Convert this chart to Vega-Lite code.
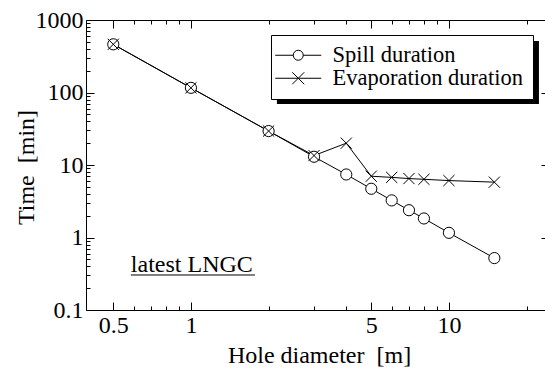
{
  "$schema": "https://vega.github.io/schema/vega-lite/v6.json",
  "width": 459,
  "height": 290,
  "autosize": {"type": "none"},
  "padding": {"left": 86, "top": 20, "right": 0, "bottom": 60},
  "background": "white",
  "config": {
    "view": {"stroke": null},
    "font": "Liberation Serif",
    "axis": {
      "grid": false,
      "domainColor": "black",
      "domainWidth": 1,
      "tickColor": "black",
      "tickWidth": 1,
      "labelColor": "black",
      "labelFont": "Liberation Serif",
      "labelFontSize": 24,
      "titleFont": "Liberation Serif",
      "titleFontSize": 24,
      "titleFontWeight": "normal",
      "titleColor": "black",
      "labelFlush": false,
      "labelOverlap": false
    }
  },
  "data": {
    "values": [
      {"d": 0.5, "t": 462, "series": "Spill duration"},
      {"d": 1, "t": 116, "series": "Spill duration"},
      {"d": 2, "t": 29.4, "series": "Spill duration"},
      {"d": 3, "t": 13.0, "series": "Spill duration"},
      {"d": 4, "t": 7.4, "series": "Spill duration"},
      {"d": 5, "t": 4.7, "series": "Spill duration"},
      {"d": 6, "t": 3.25, "series": "Spill duration"},
      {"d": 7, "t": 2.38, "series": "Spill duration"},
      {"d": 8, "t": 1.83, "series": "Spill duration"},
      {"d": 10, "t": 1.16, "series": "Spill duration"},
      {"d": 15, "t": 0.52, "series": "Spill duration"},
      {"d": 0.5, "t": 462, "series": "Evaporation duration"},
      {"d": 1, "t": 116, "series": "Evaporation duration"},
      {"d": 2, "t": 29.4, "series": "Evaporation duration"},
      {"d": 3, "t": 13.5, "series": "Evaporation duration"},
      {"d": 4, "t": 20, "series": "Evaporation duration"},
      {"d": 5, "t": 7.0, "series": "Evaporation duration"},
      {"d": 6, "t": 6.75, "series": "Evaporation duration"},
      {"d": 7, "t": 6.5, "series": "Evaporation duration"},
      {"d": 8, "t": 6.35, "series": "Evaporation duration"},
      {"d": 10, "t": 6.1, "series": "Evaporation duration"},
      {"d": 15, "t": 5.8, "series": "Evaporation duration"}
    ]
  },
  "layer": [
    {
      "data": {"values": [{}]},
      "mark": {"type": "rect", "color": "black"},
      "encoding": {
        "x": {"datum": 2.154, "type": "quantitative", "scale": {"type": "log", "domain": [0.392, 23.57], "nice": false}, "axis": null},
        "x2": {"datum": 22.33},
        "y": {"datum": 513, "type": "quantitative", "scale": {"type": "log", "domain": [0.1, 1000], "nice": false}, "axis": null},
        "y2": {"datum": 69.4}
      }
    },
    {
      "mark": {"type": "line", "color": "black", "strokeWidth": 1},
      "encoding": {
        "x": {
          "field": "d", "type": "quantitative",
          "scale": {"type": "log", "domain": [0.392, 23.57], "nice": false},
          "axis": {
            "orient": "bottom", "values": [0.5, 1, 5, 10], "format": "~g",
            "tickSize": -8, "labelPadding": 11,
            "title": "Hole diameter\u00a0 [m]", "titleX": 233, "titleY": 52,
            "titleAlign": "center", "titleBaseline": "alphabetic"
          }
        },
        "y": {
          "field": "t", "type": "quantitative",
          "scale": {"type": "log", "domain": [0.1, 1000], "nice": false},
          "axis": {
            "orient": "left", "values": [0.1, 1, 10, 100, 1000], "format": "~g",
            "tickSize": -8, "labelPadding": 11,
            "title": "Time\u00a0 [min]", "titleX": -53, "titleY": 147, "titleAngle": 270,
            "titleAlign": "center", "titleBaseline": "alphabetic"
          }
        },
        "detail": {"field": "series"}
      }
    },
    {
      "transform": [{"filter": {"field": "series", "equal": "Spill duration"}}],
      "mark": {"type": "point", "shape": "circle", "filled": true, "fill": "white", "stroke": "black", "strokeWidth": 1, "size": 125, "opacity": 1},
      "encoding": {
        "x": {
          "field": "d", "type": "quantitative",
          "scale": {"type": "log", "domain": [0.392, 23.57], "nice": false},
          "axis": {"orient": "bottom", "values": [0.6, 0.7, 0.8, 0.9, 2, 3, 4, 6, 7, 8, 9, 20], "labels": false, "domain": false, "tickSize": -4, "title": null}
        },
        "y": {
          "field": "t", "type": "quantitative",
          "scale": {"type": "log", "domain": [0.1, 1000], "nice": false},
          "axis": {"orient": "left", "values": [0.2, 0.3, 0.4, 0.5, 0.6, 0.7, 0.8, 0.9, 2, 3, 4, 5, 6, 7, 8, 9, 20, 30, 40, 50, 60, 70, 80, 90, 200, 300, 400, 500, 600, 700, 800, 900], "labels": false, "domain": false, "tickSize": -4, "title": null}
        }
      }
    },
    {
      "transform": [{"filter": {"field": "series", "equal": "Evaporation duration"}}],
      "mark": {"type": "point", "shape": "M-1,-1L1,1M-1,1L1,-1", "filled": false, "stroke": "black", "strokeWidth": 1, "size": 125, "opacity": 1},
      "encoding": {
        "x": {
          "field": "d", "type": "quantitative",
          "scale": {"type": "log", "domain": [0.392, 23.57], "nice": false},
          "axis": {"orient": "top", "values": [0.5, 1, 5, 10], "labels": false, "domain": true, "tickSize": -8, "title": null}
        },
        "y": {
          "field": "t", "type": "quantitative",
          "scale": {"type": "log", "domain": [0.1, 1000], "nice": false},
          "axis": {"orient": "right", "values": [0.1, 1, 10, 100, 1000], "labels": false, "domain": false, "tickSize": -4, "title": null}
        }
      }
    },
    {
      "transform": [{"filter": {"field": "d", "lt": 0}}],
      "mark": {"type": "point", "filled": false, "color": "black", "strokeWidth": 1, "opacity": 0},
      "encoding": {
        "x": {"field": "d", "type": "quantitative", "scale": {"type": "log", "domain": [0.392, 23.57], "nice": false}, "axis": null},
        "y": {"field": "t", "type": "quantitative", "scale": {"type": "log", "domain": [0.1, 1000], "nice": false}, "axis": null},
        "shape": {
          "field": "series", "type": "nominal",
          "scale": {
            "domain": ["Spill duration", "Evaporation duration"],
            "range": [
              "M-4.6,0L-1,0M1,0L4.6,0M1,0A1,1,0,1,1,-1,0A1,1,0,1,1,1,0",
              "M-4.6,0L4.6,0M-1.2,-1.2L1.2,1.2M-1.2,1.2L1.2,-1.2"
            ]
          },
          "legend": {
            "title": null, "orient": "none", "legendX": 185, "legendY": 15,
            "fillColor": "white", "strokeColor": "black", "padding": 9, "cornerRadius": 0,
            "labelFont": "Liberation Serif", "labelFontSize": 22.5, "labelColor": "black", "labelLimit": 400,
            "rowPadding": 0, "symbolSize": 100, "symbolOffset": 7, "labelOffset": 23,
            "symbolOpacity": 1, "symbolStrokeColor": "black", "symbolFillColor": "white", "symbolStrokeWidth": 1
          }
        }
      }
    },
    {
      "data": {"values": [{}]},
      "mark": {"type": "text", "align": "left", "baseline": "alphabetic", "fontSize": 24, "font": "Liberation Serif", "color": "black"},
      "encoding": {
        "x": {
          "datum": 0.585, "type": "quantitative",
          "scale": {"type": "log", "domain": [0.392, 23.57], "nice": false},
          "axis": {"orient": "top", "values": [0.6, 0.7, 0.8, 0.9, 2, 3, 4, 6, 7, 8, 9, 20], "labels": false, "domain": false, "tickSize": -4, "title": null}
        },
        "y": {
          "datum": 0.334, "type": "quantitative",
          "scale": {"type": "log", "domain": [0.1, 1000], "nice": false},
          "axis": null
        },
        "text": {"value": "latest LNGC"}
      }
    },
    {
      "data": {"values": [{}]},
      "mark": {"type": "rule", "color": "black", "strokeWidth": 1},
      "encoding": {
        "x": {"datum": 0.585, "type": "quantitative", "scale": {"type": "log", "domain": [0.392, 23.57], "nice": false}, "axis": null},
        "x2": {"datum": 1.77},
        "y": {"datum": 0.304, "type": "quantitative", "scale": {"type": "log", "domain": [0.1, 1000], "nice": false}, "axis": null}
      }
    }
  ],
  "resolve": {"axis": {"x": "independent", "y": "independent"}}
}
